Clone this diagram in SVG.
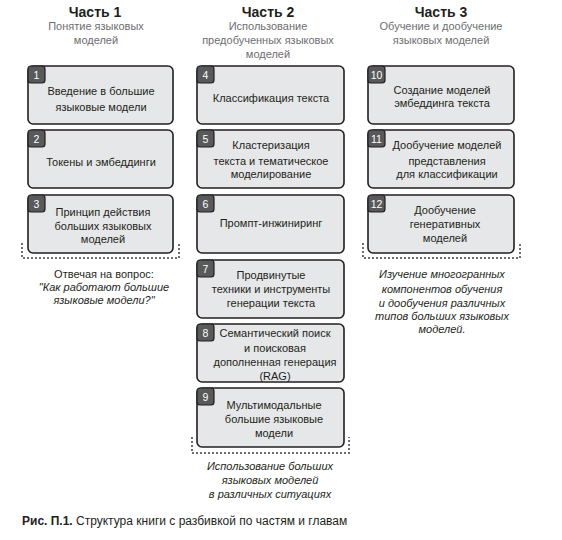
<svg xmlns="http://www.w3.org/2000/svg" width="562" height="540" viewBox="0 0 562 540">
<style>
text{font-family:"Liberation Sans",Arial,sans-serif;}
.box{fill:#e6e7e8;stroke:#231f20;stroke-width:1.6;}
.badge{fill:#58595b;stroke:#231f20;stroke-width:1.2;}
.num{fill:#fff;font-size:10.5px;text-anchor:middle;}
.t{fill:#231f20;font-size:11px;text-anchor:middle;}
.h{fill:#231f20;font-size:14px;font-weight:bold;text-anchor:middle;}
.sub{fill:#6d6e71;font-size:11px;text-anchor:middle;}
.it{fill:#231f20;font-size:11px;font-style:italic;text-anchor:middle;}
.note{fill:#231f20;font-size:11px;text-anchor:middle;}
.dot{fill:none;stroke:#6d6e71;stroke-width:2;stroke-dasharray:2 2;}
</style>
<rect width="562" height="540" fill="#fff"/>
<g id="headers">
<text class="h" x="95" y="17">Часть 1</text>
<text class="sub" x="96" y="30">Понятие языковых</text>
<text class="sub" x="96" y="44">моделей</text>
<text class="h" x="268" y="17">Часть 2</text>
<text class="sub" x="268" y="30">Использование</text>
<text class="sub" x="268" y="44">предобученных языковых</text>
<text class="sub" x="268" y="58">моделей</text>
<text class="h" x="441" y="17">Часть 3</text>
<text class="sub" x="441" y="30">Обучение и дообучение</text>
<text class="sub" x="441" y="44">языковых моделей</text>
</g>
<g id="ch1"><rect class="box" x="28" y="66" width="145" height="58" rx="5"/><rect class="badge" x="28" y="66" width="17" height="17" rx="3"/><text class="num" x="36.5" y="78.5">1</text>
<text class="t" x="101" y="95">Введение в большие</text><text class="t" x="101" y="111">языковые модели</text></g>
<g id="ch2"><rect class="box" x="28" y="130" width="145" height="58" rx="5"/><rect class="badge" x="28" y="130" width="17" height="17" rx="3"/><text class="num" x="36.5" y="142.5">2</text>
<text class="t" x="101" y="166">Токены и эмбеддинги</text></g>
<g id="ch3"><rect class="box" x="28" y="195" width="145" height="58" rx="5"/><rect class="badge" x="28" y="195" width="17" height="17" rx="3"/><text class="num" x="36.5" y="207.5">3</text>
<text class="t" x="103" y="216">Принцип действия</text><text class="t" x="103" y="230">больших языковых</text><text class="t" x="103" y="243">моделей</text></g>
<g id="ch4"><rect class="box" x="197" y="66" width="147" height="58" rx="5"/><rect class="badge" x="197" y="66" width="17" height="17" rx="3"/><text class="num" x="205.5" y="78.5">4</text>
<text class="t" x="271" y="102">Классификация текста</text></g>
<g id="ch5"><rect class="box" x="197" y="130" width="147" height="58" rx="5"/><rect class="badge" x="197" y="130" width="17" height="17" rx="3"/><text class="num" x="205.5" y="142.5">5</text>
<text class="t" x="271" y="149">Кластеризация</text><text class="t" x="271" y="165">текста и тематическое</text><text class="t" x="271" y="178">моделирование</text></g>
<g id="ch6"><rect class="box" x="197" y="195" width="147" height="58" rx="5"/><rect class="badge" x="197" y="195" width="17" height="17" rx="3"/><text class="num" x="205.5" y="207.5">6</text>
<text class="t" x="271" y="227">Промпт-инжиниринг</text></g>
<g id="ch7"><rect class="box" x="197" y="260" width="147" height="58" rx="5"/><rect class="badge" x="197" y="260" width="17" height="17" rx="3"/><text class="num" x="205.5" y="272.5">7</text>
<text class="t" x="271" y="279">Продвинутые</text><text class="t" x="271" y="293">техники и инструменты</text><text class="t" x="271" y="307">генерации текста</text></g>
<g id="ch8"><rect class="box" x="197" y="324" width="147" height="58" rx="5"/><rect class="badge" x="197" y="324" width="17" height="17" rx="3"/><text class="num" x="205.5" y="336.5">8</text>
<text class="t" x="275" y="337">Семантический поиск</text><text class="t" x="275" y="352">и поисковая</text><text class="t" x="275" y="366">дополненная генерация</text><text class="t" x="275" y="380">(RAG)</text></g>
<g id="ch9"><rect class="box" x="197" y="388" width="147" height="59" rx="5"/><rect class="badge" x="197" y="388" width="17" height="17" rx="3"/><text class="num" x="205.5" y="400.5">9</text>
<text class="t" x="274" y="409">Мультимодальные</text><text class="t" x="274" y="423">большие языковые</text><text class="t" x="274" y="437">модели</text></g>
<g id="ch10"><rect class="box" x="368" y="66" width="146" height="58" rx="5"/><rect class="badge" x="368" y="66" width="17" height="17" rx="3"/><text class="num" x="376.5" y="78.5">10</text>
<text class="t" x="442" y="94">Создание моделей</text><text class="t" x="442" y="107">эмбеддинга текста</text></g>
<g id="ch11"><rect class="box" x="368" y="130" width="146" height="58" rx="5"/><rect class="badge" x="368" y="130" width="17" height="17" rx="3"/><text class="num" x="376.5" y="142.5">11</text>
<text class="t" x="447" y="149">Дообучение моделей</text><text class="t" x="447" y="165">представления</text><text class="t" x="447" y="178">для классификации</text></g>
<g id="ch12"><rect class="box" x="368" y="195" width="146" height="58" rx="5"/><rect class="badge" x="368" y="195" width="17" height="17" rx="3"/><text class="num" x="376.5" y="207.5">12</text>
<text class="t" x="445" y="214">Дообучение</text><text class="t" x="445" y="228">генеративных</text><text class="t" x="445" y="242">моделей</text></g>
<g id="connectors">
<path class="dot" d="M22,243 V258 H179 V243"/>
<path class="dot" d="M192,437 V453 H349 V437"/>
<path class="dot" d="M363,243 V258 H520 V243"/>
</g>
<g id="notes">
<text class="note" x="104" y="278">Отвечая на вопрос:</text>
<text class="it" x="104" y="291">"Как работают большие</text>
<text class="it" x="104" y="304">языковые модели?"</text>
<text class="it" x="270" y="470">Использование больших</text>
<text class="it" x="270" y="484">языковых моделей</text>
<text class="it" x="270" y="498">в различных ситуациях</text>
<text class="it" x="442" y="278">Изучение многогранных</text>
<text class="it" x="442" y="293">компонентов обучения</text>
<text class="it" x="442" y="307">и дообучения различных</text>
<text class="it" x="442" y="320">типов больших языковых</text>
<text class="it" x="442" y="333">моделей.</text>
</g>
<text x="22" y="525" font-size="12" fill="#231f20"><tspan font-weight="bold">Рис. П.1.</tspan> Структура книги с разбивкой по частям и главам</text>
</svg>
